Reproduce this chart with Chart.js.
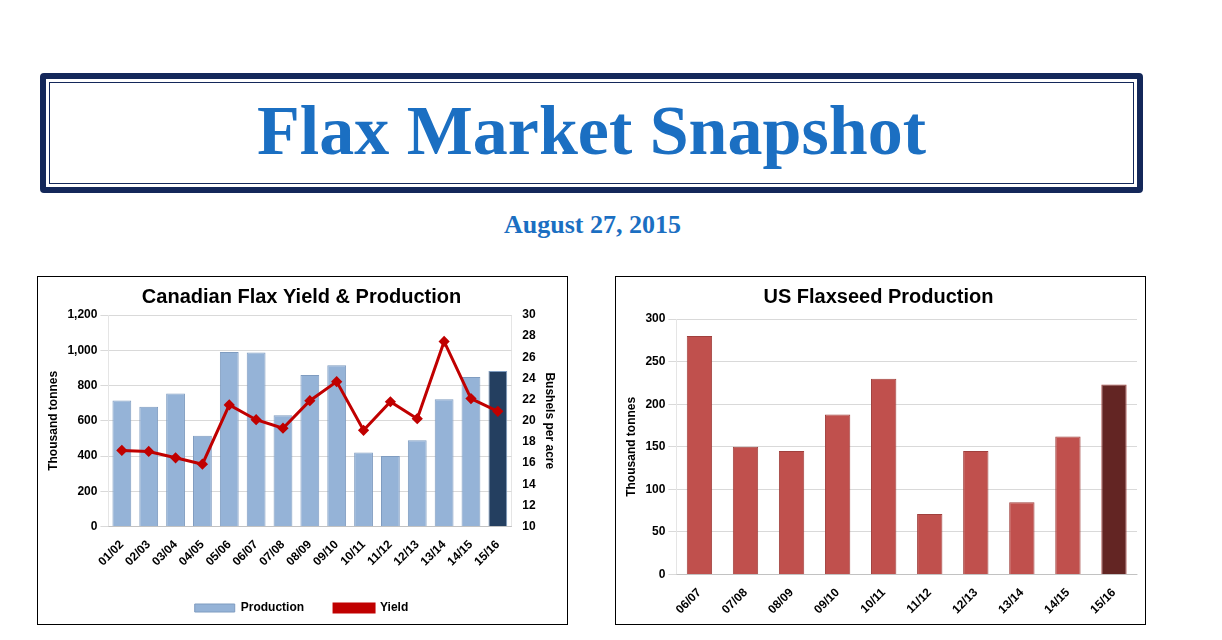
<!DOCTYPE html>
<html>
<head>
<meta charset="utf-8">
<script src="https://cdn.jsdelivr.net/npm/chart.js@4/dist/chart.umd.min.js"></script>
<style>
  body { margin: 0; background: #fff; width: 1222px; height: 640px; position: relative; overflow: hidden; font-family: "Liberation Sans", Arial, sans-serif; }
  .banner { position: absolute; left: 40px; top: 73px; width: 1091px; height: 108px; border: 6px solid #14285a; border-radius: 4px; }
  .banner .inner { position: absolute; left: 3px; top: 3px; right: 3px; bottom: 3px; border: 1.5px solid #14285a; }
  .title { position: absolute; left: 0; right: 0; top: 12px; text-align: center; font-family: "Liberation Serif", serif; font-weight: bold; font-size: 70px; color: #1b6fc2; }
  .date { position: absolute; left: 0; width: 1185px; top: 210px; text-align: center; font-family: "Liberation Serif", serif; font-weight: bold; font-size: 26px; color: #1b6fc2; }
  .box { position: absolute; top: 276px; width: 529px; height: 347px; border: 1.5px solid #000; }
  canvas { display: block; }
</style>
</head>
<body>
<div class="banner"><div class="inner"></div><div class="title">Flax Market Snapshot</div></div>
<div class="date">August 27, 2015</div>
<div class="box" style="left:37px"><canvas id="ca" width="529" height="347"></canvas></div>
<div class="box" style="left:615px"><canvas id="us" width="529" height="347"></canvas></div>
<script>
const caYears = ["01/02","02/03","03/04","04/05","05/06","06/07","07/08","08/09","09/10","10/11","11/12","12/13","13/14","14/15","15/16"];
const caProduction = [715,680,755,515,990,988,632,860,915,420,400,490,722,848,882];
const caYield = [17.2,17.1,16.5,15.9,21.5,20.1,19.3,21.9,23.7,19.1,21.8,20.2,27.5,22.1,20.9];
const usYears = ["06/07","07/08","08/09","09/10","10/11","11/12","12/13","13/14","14/15","15/16"];
const usProduction = [280,150,145,188,230,71,145,85,162,223];

const tickFont = { family: "Liberation Sans", size: 12, weight: "bold" };
const titleFont = { family: "Liberation Sans", size: 20, weight: "bold" };
const gridColor = "#d9d9d9";

new Chart(document.getElementById("ca"), {
  data: {
    labels: caYears,
    datasets: [
      { type: "line", label: "Yield", data: caYield, yAxisID: "y1", borderColor: "#c00000", backgroundColor: "#c00000", borderWidth: 3, pointStyle: "rectRot", pointRadius: 3.5, order: 0 },
      { type: "bar", label: "Production", data: caProduction, yAxisID: "y",
        backgroundColor: caProduction.map((v, i) => i === caProduction.length - 1 ? "#243f60" : "#95b3d7"),
        borderColor: "#7f9cc0", borderWidth: 1, categoryPercentage: 0.7, barPercentage: 1, order: 1 }
    ]
  },
  options: {
    responsive: false, animation: false,
    layout: { padding: { left: 4, right: 6, top: 4, bottom: 0 } },
    plugins: {
      title: { display: true, text: "Canadian Flax Yield & Production", font: titleFont, color: "#000", padding: { top: 4, bottom: 6 } },
      legend: { position: "bottom", reverse: true, labels: { font: tickFont, color: "#000", boxWidth: 40, boxHeight: 8, padding: 30 } }
    },
    scales: {
      x: { grid: { display: false }, ticks: { font: tickFont, color: "#000", maxRotation: 45, minRotation: 45, autoSkip: false } },
      y: { min: 0, max: 1200, ticks: { stepSize: 200, font: tickFont, color: "#000", callback: v => v.toLocaleString("en-US") }, grid: { color: gridColor },
           title: { display: true, text: "Thousand tonnes", font: tickFont, color: "#000" } },
      y1: { position: "right", min: 10, max: 30, ticks: { stepSize: 2, font: tickFont, color: "#000" }, grid: { display: false },
            title: { display: true, text: "Bushels per acre", font: tickFont, color: "#000" } }
    }
  }
});

new Chart(document.getElementById("us"), {
  type: "bar",
  data: {
    labels: usYears,
    datasets: [{ label: "US", data: usProduction,
      backgroundColor: usProduction.map((v, i) => i === usProduction.length - 1 ? "#632523" : "#c0504d"),
      borderColor: "#a0403d", borderWidth: 1, categoryPercentage: 0.55, barPercentage: 1 }]
  },
  options: {
    responsive: false, animation: false,
    layout: { padding: { left: 4, right: 8, top: 4, bottom: 4 } },
    plugins: {
      title: { display: true, text: "US Flaxseed Production", font: titleFont, color: "#000", padding: { top: 4, bottom: 10 } },
      legend: { display: false }
    },
    scales: {
      x: { grid: { display: false }, ticks: { font: tickFont, color: "#000", maxRotation: 45, minRotation: 45, autoSkip: false } },
      y: { min: 0, max: 300, ticks: { stepSize: 50, font: tickFont, color: "#000" }, grid: { color: gridColor },
           title: { display: true, text: "Thousand tonnes", font: tickFont, color: "#000" } }
    }
  }
});
</script>
</body>
</html>
